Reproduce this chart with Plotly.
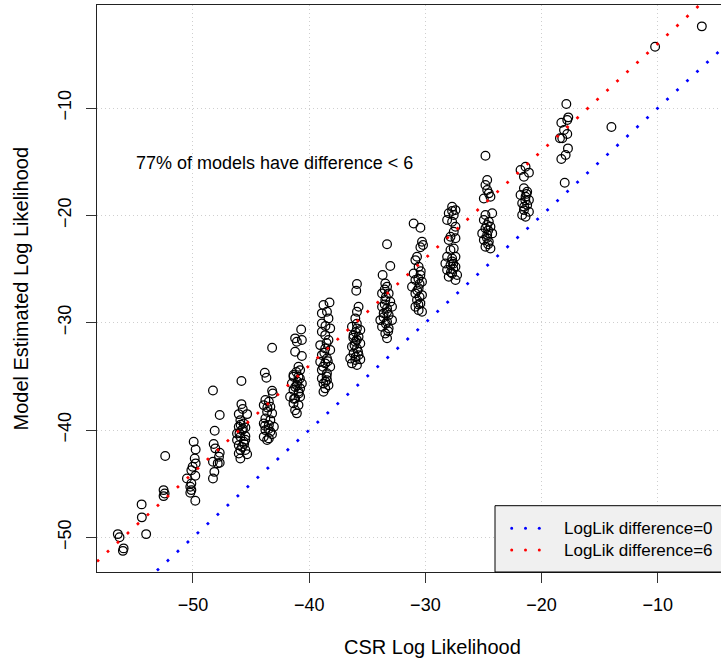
import plotly.graph_objects as go

# ---------------- data ----------------
# each column of models: CSR log likelihood (x) and model estimated log likelihood (y)
c01_x = [-56.47, -56.32, -55.97, -56.03]
c01_y = [-49.70, -50.00, -51.03, -51.26]
c02_x = [-54.42, -54.40, -54.03]
c02_y = [-46.93, -48.14, -49.70]
c03_x = [-52.53, -52.44, -52.53, -52.39]
c03_y = [-45.60, -45.91, -46.16, -42.43]
c04_x = [-49.94, -49.77, -49.85, -49.77, -50.03, -50.14, -49.80, -50.52, -50.14, -50.23, -50.14, -50.23, -49.80]
c04_y = [-41.10, -41.81, -42.65, -43.11, -43.43, -43.74, -44.27, -44.51, -44.98, -45.29, -45.60, -45.85, -46.60]
c05_x = [-48.28, -47.70, -48.13, -48.22, -48.08, -47.70, -47.76, -48.28, -47.87, -47.70, -48.16, -48.28]
c05_y = [-36.31, -38.61, -40.07, -41.31, -41.71, -42.12, -42.50, -42.96, -43.11, -43.06, -43.90, -44.51]
c06_x = [-45.83, -45.83, -45.72, -46.06, -45.34, -45.92, -45.63, -46.06, -45.49, -46.21, -45.78, -45.92,
         -45.49, -46.21, -45.63, -46.06, -45.78, -45.92, -45.49, -46.06, -45.34, -45.92,
         -45.70, -46.00, -45.60, -45.90, -45.50]
c06_y = [-35.44, -37.59, -38.05, -38.52, -38.52, -39.08, -39.39, -39.70, -39.76, -40.32, -40.01, -40.62,
         -40.57, -40.94, -41.09, -41.41, -41.57, -41.87, -41.87, -42.18, -42.25, -42.65,
         -39.90, -40.30, -41.30, -39.50, -40.90]
c07_x = [-43.19, -43.82, -43.68, -43.19, -43.13, -43.77, -43.47, -43.91, -43.34, -43.62, -43.19, -43.77,
         -43.34, -43.91, -43.47, -43.04, -43.77, -43.34, -43.91, -43.47, -43.62,
         -43.50, -43.80, -43.20, -43.60]
c07_y = [-32.34, -34.67, -35.13, -36.35, -36.59, -37.21, -37.37, -37.68, -37.84, -38.30, -38.45, -38.92,
         -39.08, -39.39, -39.54, -39.70, -40.01, -40.17, -40.63, -40.78, -40.94,
         -39.90, -39.60, -40.40, -37.90]
c08_x = [-40.69, -41.21, -41.06, -40.63, -41.21, -40.63, -40.92, -40.78, -41.35, -40.92, -41.49, -41.06,
         -40.63, -41.35, -40.92, -41.64, -41.21, -40.78, -41.35, -40.92, -41.21, -41.06, -41.35, -40.78,
         -41.00, -41.20, -40.90, -41.30, -40.80, -41.10]
c08_y = [-30.63, -31.46, -31.78, -31.62, -32.71, -33.11, -34.11, -34.42, -34.88, -35.04, -35.66, -35.82,
         -35.66, -36.28, -36.44, -36.91, -37.06, -36.91, -37.52, -37.68, -38.15, -38.45, -35.04, -36.12,
         -35.50, -36.00, -36.60, -37.10, -35.20, -34.60]
c09_x = [-38.25, -38.77, -38.91, -38.47, -38.34, -38.91, -38.19, -38.91, -38.62, -38.34, -39.05, -38.62,
         -38.19, -38.91, -38.47, -39.05, -38.62, -38.19, -38.91, -38.47, -38.91, -38.47, -38.77, -38.34,
         -38.62, -38.77, -38.60, -38.50, -38.70, -38.40, -38.80, -38.50, -38.60]
c09_y = [-28.11, -28.36, -29.13, -28.98, -29.60, -30.07, -30.53, -30.84, -31.16, -31.62, -32.09, -32.40,
         -32.55, -33.02, -33.33, -33.64, -33.79, -34.11, -34.42, -34.72, -35.19, -35.35, -35.66, -35.82,
         -36.12, -36.44, -30.30, -31.90, -32.80, -33.60, -34.10, -35.00, -35.50]
c10_x = [-35.89, -35.95, -35.75, -35.89, -36.03, -36.32, -35.89, -35.60, -36.18, -35.75, -36.03, -35.60,
         -36.32, -35.89, -36.18, -35.75, -36.47, -36.03, -35.60, -36.32, -35.89,
         -36.00, -35.90, -36.10, -35.80, -36.00, -35.90, -36.20]
c10_y = [-26.40, -27.03, -28.52, -28.98, -29.60, -30.38, -30.53, -30.69, -31.16, -31.31, -31.78, -31.93,
         -32.24, -32.40, -32.86, -33.02, -33.33, -33.48, -33.42, -33.79, -33.95,
         -30.90, -31.60, -32.10, -32.70, -33.20, -30.10, -31.40]
c11_x = [-33.68, -33.45, -33.30, -33.73, -33.16, -33.45, -33.02, -33.73, -33.30, -32.87, -33.59, -33.16,
         -33.88, -33.30, -32.87, -33.73, -33.16, -33.45, -33.30, -33.30, -33.02,
         -33.40, -33.50, -33.30, -33.60, -33.40, -33.20, -33.50]
c11_y = [-25.56, -26.34, -26.65, -27.27, -27.27, -27.89, -28.05, -28.52, -28.67, -28.52, -29.13, -29.29,
         -29.76, -29.91, -29.76, -30.38, -30.53, -31.00, -31.46, -22.70, -24.72,
         -27.60, -28.30, -29.00, -29.50, -30.10, -30.80, -26.90]
c12_x = [-31.01, -30.43, -30.29, -30.20, -30.43, -30.72, -30.86, -30.58, -31.01, -30.43, -30.86, -30.29,
         -31.15, -30.58, -30.86, -30.29, -30.72, -30.43, -30.86, -30.58, -30.29,
         -30.60, -30.50, -30.70, -30.50, -30.60, -30.40]
c12_y = [-20.75, -21.15, -22.46, -22.77, -22.98, -23.86, -24.17, -24.79, -25.41, -25.56, -26.03, -26.19,
         -26.65, -26.80, -27.27, -27.43, -27.89, -28.20, -28.52, -28.83, -28.98,
         -25.90, -26.40, -27.00, -27.60, -28.30, -25.20]
c13_x = [-27.70, -27.41, -27.99, -27.56, -28.13, -27.70, -27.41, -27.56, -27.84, -27.99, -27.41, -27.56,
         -27.84, -28.13, -27.70, -27.41, -28.28, -27.84, -27.41, -28.13, -27.70, -27.27, -27.99, -27.41,
         -27.70, -27.60, -27.80, -27.60, -27.70]
c13_y = [-19.20, -19.51, -19.81, -19.97, -20.44, -20.60, -21.06, -21.53, -22.00, -22.30, -22.14, -23.08,
         -23.23, -23.86, -24.01, -23.86, -24.48, -24.63, -24.79, -25.10, -25.41, -25.56, -25.72, -26.03,
         -24.30, -25.00, -25.30, -24.50, -19.60]
c14_x = [-24.68, -24.83, -24.68, -24.54, -24.97, -24.40, -24.25, -24.83, -24.97, -24.54, -24.40, -24.83,
         -25.11, -24.68, -24.25, -24.97, -24.54, -24.83, -24.40, -24.83,
         -24.70, -24.60, -24.70, -24.60]
c14_y = [-16.71, -17.18, -17.64, -17.95, -18.42, -18.27, -19.81, -19.97, -20.44, -20.59, -21.06, -21.21,
         -21.68, -21.83, -21.68, -22.30, -22.45, -22.93, -23.08, -14.44,
         -20.90, -21.40, -22.10, -22.70]
c15_x = [-21.81, -21.09, -21.52, -21.38, -21.52, -21.24, -21.81, -21.38, -21.09, -21.67, -21.24, -21.52,
         -21.09, -21.67, -21.38, -21.40, -21.50, -21.30]
c15_y = [-15.78, -16.02, -16.40, -15.47, -17.48, -17.80, -18.11, -18.27, -18.57, -18.88, -19.04, -19.51,
         -19.66, -19.97, -20.13, -18.60, -19.20, -18.00]
c16_x = [-17.87, -17.70, -17.79, -18.30, -18.07, -17.79, -18.42, -18.22, -17.73, -17.93, -18.30, -18.01]
c16_y = [-9.63, -10.87, -11.12, -11.37, -12.05, -12.42, -12.82, -12.82, -13.76, -14.38, -14.75, -16.96]
c17_x = [-13.99, -10.23, -6.21]
c17_y = [-11.77, -4.29, -2.39]

csr_loglik = (c01_x + c02_x + c03_x + c04_x + c05_x + c06_x + c07_x + c08_x + c09_x
              + c10_x + c11_x + c12_x + c13_x + c14_x + c15_x + c16_x + c17_x)
model_loglik = (c01_y + c02_y + c03_y + c04_y + c05_y + c06_y + c07_y + c08_y + c09_y
                + c10_y + c11_y + c12_y + c13_y + c14_y + c15_y + c16_y + c17_y)

ref_offsets = [0, 6]
ref_colors = ["#0000ff", "#ff0000"]
legend_labels = ["LogLik difference=0", "LogLik difference=6"]
note_text = "77% of models have difference < 6"

x_range = [-58.26, -4.56]
y_range = [-53.23, -0.40]
tick_vals = [-50, -40, -30, -20, -10]

FONT = "Liberation Sans, Arial, Helvetica, sans-serif"

fig = go.Figure()

# points
fig.add_trace(go.Scatter(
    x=csr_loglik, y=model_loglik, mode="markers",
    marker=dict(symbol="circle-open", size=8.7, color="black", line=dict(width=1.25, color="black")),
    showlegend=False, hoverinfo="x+y"))

# reference lines y = x + offset (abline, spanning the whole plot)
for off, col in zip(ref_offsets, ref_colors):
    xs = [x_range[0], x_range[1]]
    fig.add_trace(go.Scatter(
        x=xs, y=[v + off for v in xs], mode="lines",
        line=dict(color=col, width=2.7, dash="2.7px,10.9px"),
        showlegend=False, hoverinfo="skip"))

# legend box (bottom-right, running off the page)
L, T, B = 97, 5, 572
PW, PH = 624, 567
def px2paper_x(px):
    return (px - L) / PW
def px2paper_y(py):
    return (B - py) / PH

shapes = [dict(type="rect", xref="paper", yref="paper",
               x0=px2paper_x(495), x1=1.3, y0=0, y1=px2paper_y(505.7),
               fillcolor="#f0f0f0", line=dict(color="black", width=1), layer="above")]
annotations = []
for i, (lab, col) in enumerate(zip(legend_labels, ref_colors)):
    yy = px2paper_y([528.3, 550][i])
    for dxp in [511.7, 525.5, 539.3]:
        shapes.append(dict(type="circle", xref="paper", yref="paper",
                           xsizemode="pixel", ysizemode="pixel",
                           xanchor=px2paper_x(dxp), yanchor=yy,
                           x0=-1.5, x1=1.5, y0=-1.5, y1=1.5,
                           fillcolor=col, line=dict(width=0), layer="above"))
    annotations.append(dict(text=lab, xref="paper", yref="paper", x=px2paper_x(561.7), y=yy,
                            xanchor="left", yanchor="middle", showarrow=False,
                            font=dict(family=FONT, size=17, color="black")))

annotations.append(dict(text=note_text, x=-43, y=-15.1, xref="x", yref="y", showarrow=False,
                        xanchor="center", yanchor="middle",
                        font=dict(family=FONT, size=18, color="black")))
# axis titles
annotations.append(dict(text="CSR Log Likelihood", xref="paper", yref="paper",
                        x=px2paper_x(432.5), y=0, yshift=-(647 - B), xanchor="center", yanchor="middle",
                        showarrow=False, font=dict(family=FONT, size=20, color="black")))
annotations.append(dict(text="Model Estimated Log Likelihood", xref="paper", yref="paper",
                        x=0, xshift=-(L - 20), y=0.5, xanchor="center", yanchor="middle", textangle=-90,
                        showarrow=False, font=dict(family=FONT, size=20, color="black")))

axis_common = dict(
    showgrid=True, gridcolor="#cfcfcf", griddash="1px,3px", gridwidth=1,
    zeroline=False, showline=True, linecolor="#222222", linewidth=1.4,
    ticks="outside", ticklen=10, tickwidth=1.4, tickcolor="#333333",
    tickvals=tick_vals, tickfont=dict(family=FONT, size=18, color="black"),
)

fig.update_layout(
    width=721, height=662,
    margin=dict(l=L, r=0, t=T, b=662 - B, autoexpand=False),
    paper_bgcolor="white", plot_bgcolor="white",
    xaxis=dict(range=x_range, mirror=True, ticklabelstandoff=6, **axis_common),
    yaxis=dict(range=y_range, tickangle=-90, ticklabelstandoff=8, **axis_common),
    shapes=shapes, annotations=annotations,
    font=dict(family=FONT),
)

fig.write_html("out.html")
